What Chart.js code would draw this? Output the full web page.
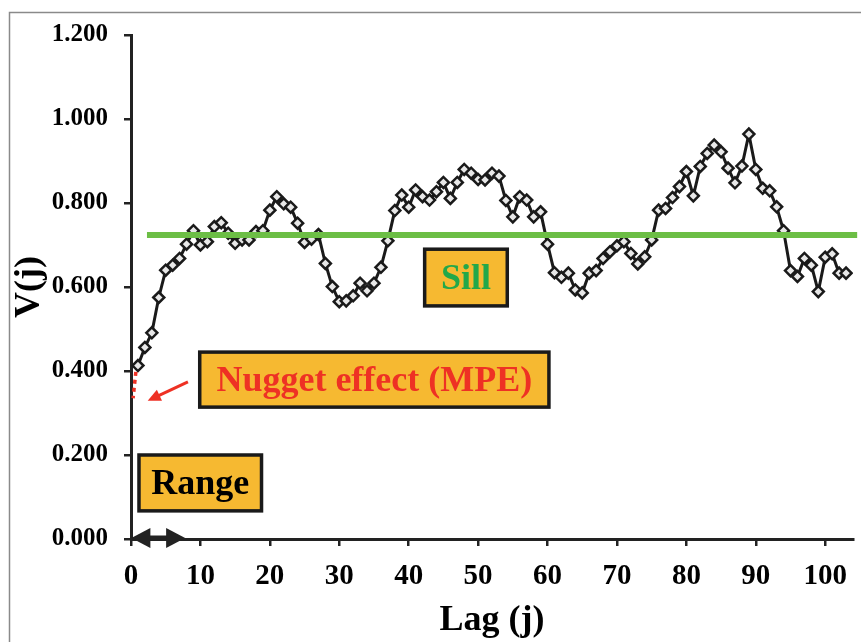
<!DOCTYPE html>
<html><head><meta charset="utf-8">
<script src="https://cdn.jsdelivr.net/npm/chart.js@4.4.1/dist/chart.umd.min.js"></script>
<style>html,body{margin:0;padding:0;background:#fff;}#wrap{width:861px;height:642px;position:relative;}</style>
</head><body><div id="wrap"><canvas id="c" width="861" height="642"></canvas></div>
<script>
// ---- data ----
const lags = [1,2,3,4,5,6,7,8,9,10,11,12,13,14,15,16,17,18,19,20,21,22,23,24,25,26,27,28,29,30,
  31,32,33,34,35,36,37,38,39,40,41,42,43,44,45,46,47,48,49,50,51,52,53,54,55,56,57,58,59,60,
  61,62,63,64,65,66,67,68,69,70,71,72,73,74,75,76,77,78,79,80,81,82,83,84,85,86,87,88,89,90,
  91,92,93,94,95,96,97,98,99,100,101,102,103];
const vj = [0.413,0.456,0.491,0.575,0.640,0.652,0.668,0.702,0.734,0.700,
  0.708,0.744,0.753,0.728,0.704,0.712,0.712,0.732,0.734,0.783,
  0.815,0.798,0.790,0.752,0.706,0.714,0.725,0.656,0.601,0.565,
  0.567,0.579,0.609,0.591,0.609,0.647,0.710,0.782,0.819,0.790,
  0.831,0.815,0.807,0.827,0.849,0.811,0.849,0.880,0.871,0.856,
  0.855,0.871,0.864,0.806,0.767,0.815,0.807,0.767,0.779,0.702,
  0.634,0.623,0.633,0.593,0.586,0.633,0.639,0.668,0.684,0.698,
  0.708,0.680,0.655,0.672,0.712,0.783,0.787,0.813,0.839,0.875,
  0.817,0.887,0.918,0.938,0.922,0.883,0.848,0.888,0.964,0.880,
  0.835,0.829,0.791,0.734,0.639,0.625,0.668,0.652,0.589,0.671,
  0.679,0.633,0.633];
const sillValue = 0.724;
const sillLags = [2.3, 104.6];
const nuggetLags = [0.7, 0.3];
const nuggetValues = [0.398, 0.335];
const xTickValues = [0,10,20,30,40,50,60,70,80,90,100];
const yTickValues = [0,0.2,0.4,0.6,0.8,1.0,1.2];
const labels = {nugget:'Nugget effect (MPE)', sill:'Sill', range:'Range', xTitle:'Lag (j)', yTitle:'V(j)'};

const FF = '"Liberation Serif","Times New Roman",serif';

const annot = {
  id:'annot',
  beforeDraw(chart){
    const ctx = chart.ctx;
    ctx.save();
    ctx.strokeStyle = '#8a8a8a'; ctx.lineWidth = 1.5;
    ctx.beginPath(); ctx.moveTo(9.5, 700); ctx.lineTo(9.5, 12.5); ctx.lineTo(900, 12.5); ctx.stroke();
    ctx.restore();
  },
  afterDatasetsDraw(chart){
    const ctx = chart.ctx, xs = chart.scales.x, ys = chart.scales.y;
    const px = v => xs.getPixelForValue(v), py = v => ys.getPixelForValue(v);
    function box(x0,y0,x1,y1,text,color){
      const l=px(x0), r=px(x1), t=py(y0), b=py(y1);
      ctx.save();
      ctx.fillStyle='#F6B931'; ctx.fillRect(l,t,r-l,b-t);
      ctx.strokeStyle='#1a1a1a'; ctx.lineWidth=3.5; ctx.strokeRect(l,t,r-l,b-t);
      ctx.fillStyle=color; ctx.font='bold 36px '+FF; ctx.textAlign='center'; ctx.textBaseline='middle';
      ctx.fillText(text,(l+r)/2,(t+b)/2+2);
      ctx.restore();
    }
    box(9.9,0.445,60.2,0.314,labels.nugget,'#EE3124');
    box(42.3,0.690,54.2,0.555,labels.sill,'#22A84A');
    box(1.15,0.200,18.8,0.067,labels.range,'#000');
    // red arrow
    ctx.save();
    const ax0=px(8.2), ay0=py(0.374), ax1=px(2.4), ay1=py(0.329);
    ctx.strokeStyle='#EE3124'; ctx.fillStyle='#EE3124'; ctx.lineWidth=3;
    const ang=Math.atan2(ay1-ay0, ax1-ax0);
    ctx.beginPath(); ctx.moveTo(ax0,ay0); ctx.lineTo(ax1-8*Math.cos(ang), ay1-8*Math.sin(ang)); ctx.stroke();
    ctx.beginPath(); ctx.moveTo(ax1,ay1);
    ctx.lineTo(ax1-13*Math.cos(ang)+6*Math.sin(ang), ay1-13*Math.sin(ang)-6*Math.cos(ang));
    ctx.lineTo(ax1-13*Math.cos(ang)-6*Math.sin(ang), ay1-13*Math.sin(ang)+6*Math.cos(ang));
    ctx.closePath(); ctx.fill();
    ctx.restore();
    // range double arrow
    ctx.save();
    const rx0=px(0.05), rx1=px(7.8), ry=py(0)-1;
    ctx.fillStyle='#222'; ctx.strokeStyle='#222'; ctx.lineWidth=5;
    ctx.beginPath(); ctx.moveTo(rx0+12,ry); ctx.lineTo(rx1-12,ry); ctx.stroke();
    ctx.beginPath(); ctx.moveTo(rx0,ry); ctx.lineTo(rx0+19,ry-10); ctx.lineTo(rx0+19,ry+10); ctx.closePath(); ctx.fill();
    ctx.beginPath(); ctx.moveTo(rx1,ry); ctx.lineTo(rx1-19,ry-10); ctx.lineTo(rx1-19,ry+10); ctx.closePath(); ctx.fill();
    ctx.restore();
  }
};

new Chart(document.getElementById('c'), {
  type:'line',
  data:{datasets:[
    {label:'Sill', data: sillLags.map(x=>({x, y:sillValue})), borderColor:'#6CBE45', borderWidth:6, pointRadius:0, clip:false, order:0},
    {label:'Nugget', data: nuggetLags.map((x,i)=>({x, y:nuggetValues[i]})), borderColor:'#EE3124', borderWidth:3.5, borderDash:[4,4], pointRadius:0, clip:false, order:1},
    {label:'V(j)', data: lags.map((x,i)=>({x, y:vj[i]})), borderColor:'#1a1a1a', borderWidth:3, pointStyle:'rectRot', pointRadius:5.5, pointBorderWidth:2.5, pointBackgroundColor:'#e8e8e8', pointBorderColor:'#1a1a1a', tension:0, order:2}
  ]},
  options:{
    responsive:false, animation:false,
    layout:{padding:{top:35, right:4, left:0, bottom:0}},
    plugins:{legend:{display:false}, tooltip:{enabled:false}},
    scales:{
      x:{type:'linear', min:0, max:104,
        afterFit(s){s.height=103;},
        afterBuildTicks(s){s.ticks = xTickValues.map(v=>({value:v}));},
        ticks:{font:{family:FF,size:29,weight:'bold'}, color:'#000', padding:13, maxRotation:0, autoSkip:false, includeBounds:false},
        grid:{drawOnChartArea:false, drawTicks:true, tickLength:7, color:'#222', lineWidth:2.5},
        border:{color:'#222', width:3},
        title:{display:true, text:labels.xTitle, font:{family:FF,size:36,weight:'bold'}, color:'#000', padding:{top:0,bottom:0}}
      },
      y:{min:0, max:1.2,
        afterFit(s){s.width=131;},
        afterBuildTicks(s){s.ticks = yTickValues.map(v=>({value:v}));},
        ticks:{font:{family:FF,size:25,weight:'bold'}, color:'#000', padding:16, callback:v=>Number(v).toFixed(3)},
        grid:{drawOnChartArea:false, drawTicks:true, tickLength:7, color:'#222', lineWidth:2.5},
        border:{color:'#222', width:3},
        title:{display:true, text:labels.yTitle, font:{family:FF,size:36,weight:'bold'}, color:'#000', padding:{top:8,bottom:0}}
      }
    }
  },
  plugins:[annot]
});
</script></body></html>
